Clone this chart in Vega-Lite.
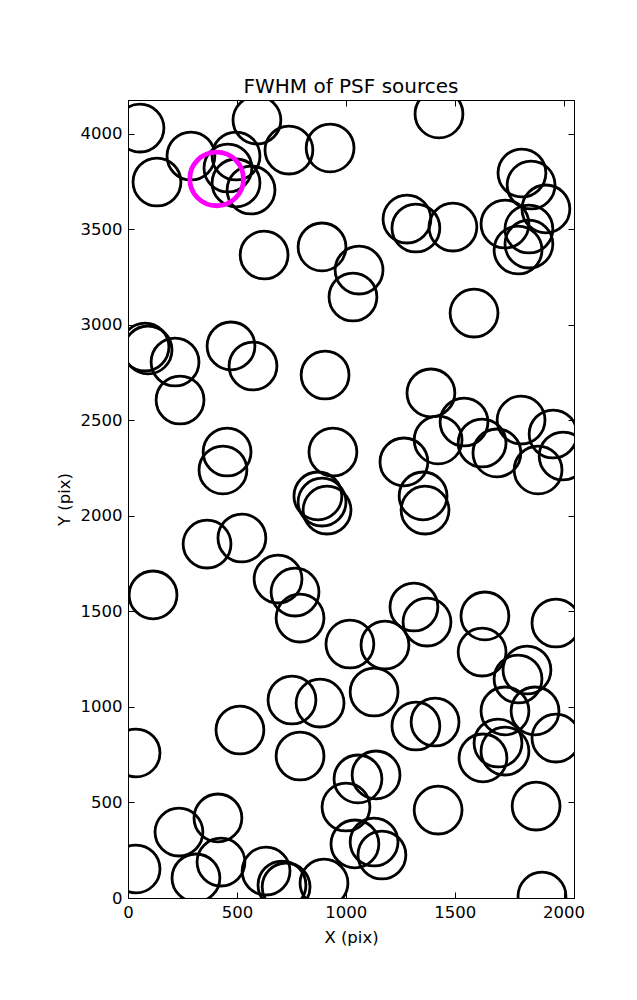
{
  "$schema": "https://vega.github.io/schema/vega-lite/v6.json",
  "autosize": "none",
  "width": 446,
  "height": 798,
  "padding": {"left": 128, "top": 100, "right": 63, "bottom": 102},
  "background": "white",
  "config": {
    "font": "DejaVu Sans",
    "view": {"stroke": "black", "strokeWidth": 1},
    "axis": {
      "domainColor": "black",
      "tickColor": "black",
      "labelColor": "black",
      "titleColor": "black",
      "labelFont": "DejaVu Sans",
      "titleFont": "DejaVu Sans",
      "labelFontSize": 16.5,
      "titleFontSize": 16.5,
      "titleFontWeight": "normal",
      "grid": false,
      "tickSize": -6,
      "tickWidth": 1
    }
  },
  "title": {"text": "FWHM of PSF sources", "fontSize": 20, "fontWeight": "normal", "font": "DejaVu Sans", "color": "black", "offset": 3},
  "datasets": {
    "black": [
      {"x": 55, "y": 4029}, {"x": 133, "y": 3747}, {"x": 289, "y": 3883}, {"x": 496, "y": 3883},
      {"x": 459, "y": 3820}, {"x": 496, "y": 3742}, {"x": 565, "y": 3705}, {"x": 592, "y": 4071},
      {"x": 739, "y": 3914}, {"x": 928, "y": 3925}, {"x": 1428, "y": 4103}, {"x": 625, "y": 3365},
      {"x": 891, "y": 3407}, {"x": 1061, "y": 3286}, {"x": 1033, "y": 3145}, {"x": 1281, "y": 3553},
      {"x": 1322, "y": 3506}, {"x": 1492, "y": 3511}, {"x": 1731, "y": 3527}, {"x": 1809, "y": 3794},
      {"x": 1851, "y": 3731}, {"x": 1919, "y": 3606}, {"x": 1841, "y": 3501}, {"x": 1841, "y": 3422},
      {"x": 1791, "y": 3391}, {"x": 1589, "y": 3061}, {"x": 78, "y": 2883}, {"x": 92, "y": 2868},
      {"x": 216, "y": 2805}, {"x": 239, "y": 2606}, {"x": 473, "y": 2889}, {"x": 574, "y": 2784},
      {"x": 905, "y": 2737}, {"x": 455, "y": 2334}, {"x": 436, "y": 2240}, {"x": 941, "y": 2334},
      {"x": 1391, "y": 2643}, {"x": 1543, "y": 2491}, {"x": 1424, "y": 2397}, {"x": 1626, "y": 2381},
      {"x": 1694, "y": 2329}, {"x": 1805, "y": 2501}, {"x": 1952, "y": 2428}, {"x": 1883, "y": 2240},
      {"x": 1998, "y": 2313}, {"x": 1267, "y": 2282}, {"x": 1355, "y": 2104}, {"x": 1364, "y": 2030},
      {"x": 872, "y": 2104}, {"x": 891, "y": 2072}, {"x": 914, "y": 2030}, {"x": 363, "y": 1852},
      {"x": 523, "y": 1884}, {"x": 115, "y": 1586}, {"x": 689, "y": 1669}, {"x": 767, "y": 1601},
      {"x": 790, "y": 1465}, {"x": 1019, "y": 1329}, {"x": 1313, "y": 1523}, {"x": 1373, "y": 1444},
      {"x": 1639, "y": 1476}, {"x": 1626, "y": 1287}, {"x": 1965, "y": 1439}, {"x": 1180, "y": 1324},
      {"x": 1832, "y": 1193}, {"x": 1791, "y": 1146}, {"x": 1130, "y": 1078}, {"x": 1731, "y": 979},
      {"x": 1869, "y": 979}, {"x": 753, "y": 1036}, {"x": 882, "y": 1020}, {"x": 514, "y": 879},
      {"x": 37, "y": 759}, {"x": 790, "y": 743}, {"x": 413, "y": 419}, {"x": 234, "y": 345},
      {"x": 37, "y": 152}, {"x": 312, "y": 105}, {"x": 427, "y": 188}, {"x": 634, "y": 141},
      {"x": 707, "y": 68}, {"x": 726, "y": 58}, {"x": 900, "y": 78}, {"x": 1322, "y": 900},
      {"x": 1410, "y": 921}, {"x": 1965, "y": 837}, {"x": 1630, "y": 733}, {"x": 1699, "y": 811},
      {"x": 1731, "y": 769}, {"x": 1139, "y": 644}, {"x": 1056, "y": 623}, {"x": 1001, "y": 476},
      {"x": 1424, "y": 460}, {"x": 1874, "y": 481}, {"x": 1130, "y": 293}, {"x": 1166, "y": 225},
      {"x": 1042, "y": 283}, {"x": 1901, "y": 10}
    ],
    "mag": [{"x": 407, "y": 3763}]
  },
  "layer": [
    {
      "data": {"name": "black"},
      "mark": {"type": "point", "shape": "circle", "filled": false, "stroke": "black", "strokeWidth": 2.8, "size": 2290, "clip": true, "opacity": 1},
      "encoding": {
        "x": {"field": "x", "type": "quantitative", "scale": {"domain": [0, 2048], "nice": false, "zero": false},
              "axis": {"title": "X (pix)", "values": [0, 500, 1000, 1500, 2000], "format": "d", "labelPadding": 12, "titlePadding": 9, "labelFlush": false}},
        "y": {"field": "y", "type": "quantitative", "scale": {"domain": [0, 4176], "nice": false, "zero": false},
              "axis": {"title": "Y (pix)", "values": [0, 500, 1000, 1500, 2000, 2500, 3000, 3500, 4000], "format": "d", "labelPadding": 12, "titlePadding": 8, "labelFlush": false}}
      }
    },
    {
      "data": {"name": "mag"},
      "mark": {"type": "point", "shape": "circle", "filled": false, "stroke": "#ff00ff", "strokeWidth": 4.8, "size": 2884, "clip": true, "opacity": 1},
      "encoding": {
        "x": {"field": "x", "type": "quantitative", "scale": {"domain": [0, 2048], "nice": false, "zero": false},
              "axis": {"orient": "top", "title": null, "labels": false, "values": [0, 500, 1000, 1500, 2000]}},
        "y": {"field": "y", "type": "quantitative", "scale": {"domain": [0, 4176], "nice": false, "zero": false},
              "axis": {"orient": "right", "title": null, "labels": false, "values": [0, 500, 1000, 1500, 2000, 2500, 3000, 3500, 4000]}}
      }
    }
  ],
  "resolve": {"axis": {"x": "independent", "y": "independent"}}
}
